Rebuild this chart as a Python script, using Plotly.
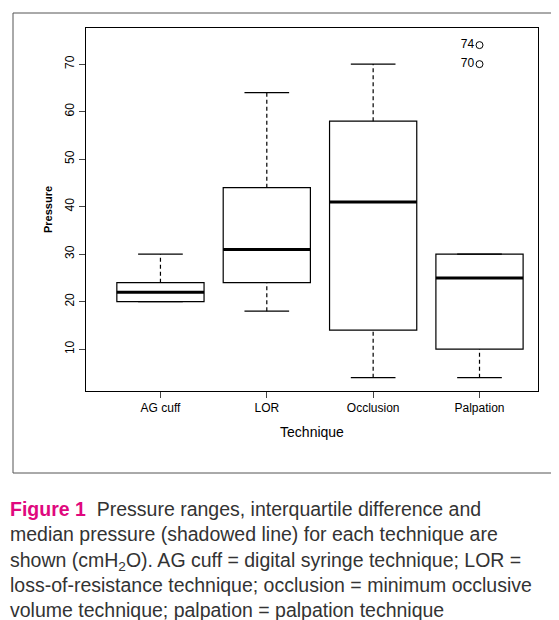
import plotly.graph_objects as go

techniques = ["AG cuff", "LOR", "Occlusion", "Palpation"]
mins = [20, 18, 4, 4]
q1s = [20, 24, 14, 10]
medians = [22, 31, 41, 25]
q3s = [24, 44, 58, 30]
maxs = [30, 64, 70, 30]
outlier_x = ["Palpation", "Palpation"]
outlier_y = [74, 70]

fig = go.Figure()

# boxes (no whiskers: fences at the quartiles)
fig.add_trace(go.Box(
    x=techniques, q1=q1s, median=medians, q3=q3s,
    lowerfence=q1s, upperfence=q3s,
    fillcolor="white", line=dict(color="black", width=1.2),
    width=0.82, boxpoints=False, hoverinfo="skip", showlegend=False,
))
for i, t in enumerate(techniques):
    # thick medians on top
    fig.add_trace(go.Scatter(
        x=[i - 0.41, i + 0.41], y=[medians[i], medians[i]], xaxis="x2",
        mode="lines", line=dict(color="black", width=3), showlegend=False))
    # dashed whiskers
    for lo, hi in ((mins[i], q1s[i]), (q3s[i], maxs[i])):
        if hi > lo:
            fig.add_trace(go.Scatter(
                x=[i, i], y=[lo, hi], xaxis="x2", mode="lines",
                line=dict(color="black", width=1.2, dash="4px,3px"), showlegend=False))
    # whisker caps
    for v in (mins[i], maxs[i]):
        fig.add_trace(go.Scatter(
            x=[i - 0.21, i + 0.21], y=[v, v], xaxis="x2", mode="lines",
            line=dict(color="black", width=1.2), showlegend=False))

fig.add_trace(go.Scatter(
    x=outlier_x, y=outlier_y, mode="markers+text",
    text=[str(v) for v in outlier_y], textposition="middle left",
    textfont=dict(size=12, color="black"),
    marker=dict(symbol="circle-open", size=7, color="black"), showlegend=False))

fig.update_layout(
    width=559, height=620, plot_bgcolor="white", paper_bgcolor="white",
    margin=dict(l=0, r=0, t=0, b=0),
    font=dict(family="Liberation Sans, Arial", size=12, color="black"),
    xaxis=dict(domain=[78 / 559, 530 / 559], range=[-0.7, 3.55], automargin=False,
               showline=True, mirror=True, linecolor="black",
               ticks="outside", ticklen=6, showgrid=False,
               title=dict(text="Technique", standoff=12), anchor="y"),
    xaxis2=dict(domain=[78 / 559, 530 / 559], range=[-0.7, 3.55],
                overlaying="x", visible=False, anchor="y"),
    yaxis=dict(domain=[1 - 383 / 620, 1 - 20 / 620], range=[1.2, 77.6], automargin=False,
               showline=True, mirror=True, linecolor="black",
               ticks="outside", ticklen=6, showgrid=False, zeroline=False,
               tickvals=[10, 20, 30, 40, 50, 60, 70], tickangle=-90,
               title=dict(text="<b>Pressure</b>", font=dict(size=11), standoff=8)),
    shapes=[dict(type="rect", xref="paper", yref="paper",
                 x0=5 / 559, x1=550 / 559, y0=1 - 465 / 620, y1=1 - 5 / 620,
                 line=dict(color="#555", width=1))],
    annotations=[dict(
        xref="paper", yref="paper", x=0, y=1 - 488 / 620,
        xanchor="left", yanchor="top", align="left", showarrow=False,
        font=dict(size=19.5, color="#333", family="Liberation Sans, Arial"),
        text=("<span style='color:#e0087e'><b>Figure 1</b></span>  Pressure ranges, interquartile difference and<br>"
              "median pressure (shadowed line) for each technique are<br>"
              "shown (cmH<sub>2</sub>O). AG cuff = digital syringe technique; LOR =<br>"
              "loss-of-resistance technique; occlusion = minimum occlusive<br>"
              "volume technique; palpation = palpation technique"))],
)

fig.write_html("out.html")
